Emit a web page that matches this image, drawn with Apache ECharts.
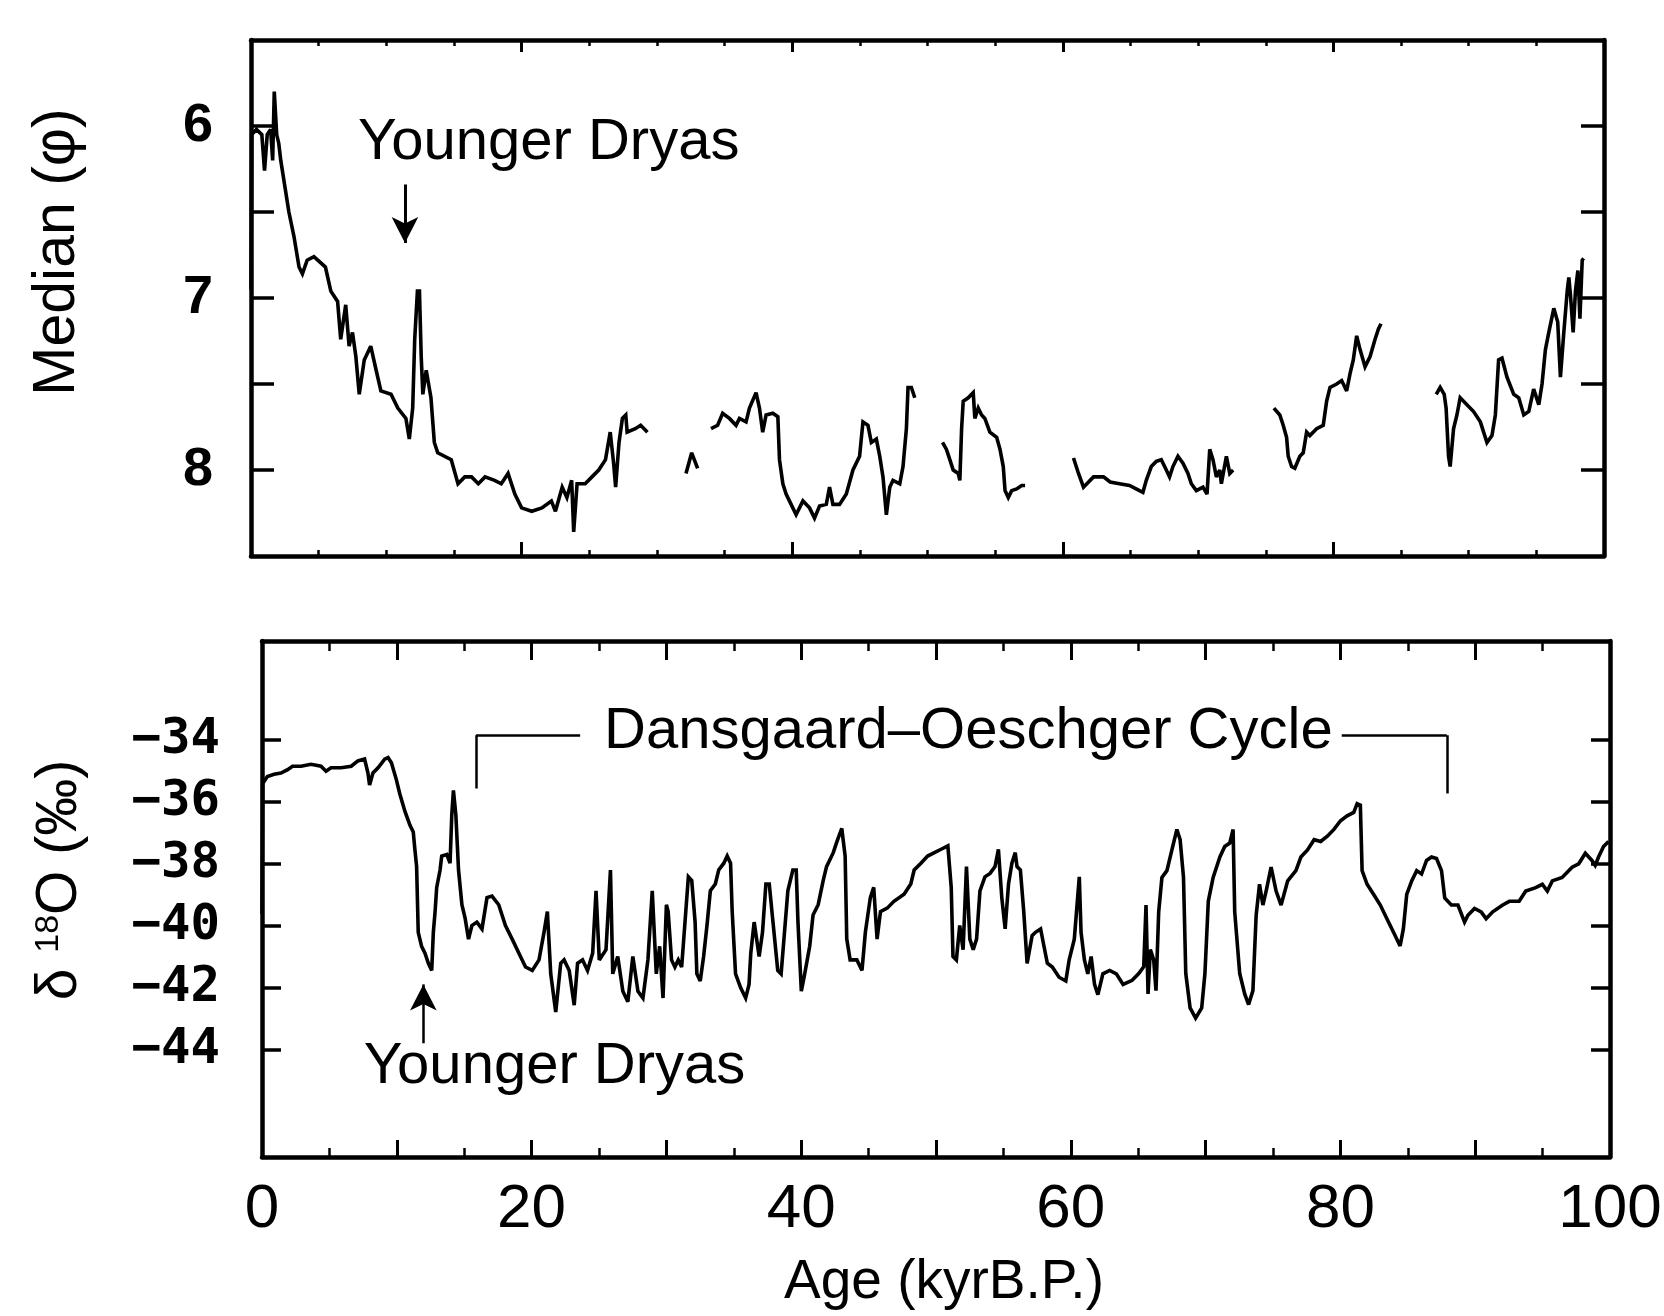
<!DOCTYPE html>
<html><head><meta charset="utf-8">
<script src="https://cdn.jsdelivr.net/npm/echarts@6/dist/echarts.min.js"></script>
<style>html,body{margin:0;padding:0;background:#fff}#chart{width:1664px;height:1316px}</style>
</head><body><div id="chart"></div>
<script>
// ---------- DATA (age in kyr B.P.) ----------
// Upper panel: Median grain size (phi), measured in separate core sections
const medianSeg1 = [[0.0,6.95],[0.05,6.05],[0.4,6.02],[0.8,6.05],[1.0,6.26],[1.2,6.05],[1.45,6.02],[1.6,6.2],[1.72,5.8],[1.9,6.05],[2.05,6.1],[2.2,6.2],[2.8,6.5],[3.17,6.64],[3.55,6.82],[3.8,6.86],[4.15,6.78],[4.65,6.76],[5.5,6.82],[5.9,6.96],[6.4,7.02],[6.63,7.24],[7.0,7.04],[7.25,7.28],[7.5,7.2],[7.75,7.34],[8.0,7.56],[8.37,7.36],[8.85,7.28],[9.25,7.42],[9.6,7.54],[10.35,7.56],[10.85,7.64],[11.45,7.7],[11.7,7.82],[11.95,7.64],[12.1,7.24],[12.3,6.96],[12.45,6.96],[12.58,7.34],[12.7,7.56],[12.95,7.42],[13.3,7.58],[13.55,7.84],[13.8,7.9],[14.8,7.94],[15.3,8.08],[15.8,8.04],[16.3,8.04],[16.8,8.08],[17.3,8.04],[18.0,8.06],[18.5,8.08],[19.0,8.02],[19.5,8.14],[20.0,8.22],[20.75,8.24],[21.5,8.22],[22.2,8.18],[22.5,8.24],[23.0,8.1],[23.35,8.16],[23.7,8.06],[23.85,8.36],[24.1,8.08],[24.7,8.08],[25.2,8.04],[25.7,8.0],[26.2,7.94],[26.55,7.78],[26.8,7.96],[26.95,8.1],[27.2,7.84],[27.45,7.7],[27.7,7.68],[27.8,7.78],[28.4,7.76],[28.8,7.74],[29.3,7.78]];
const medianSeg2 = [[32.15,8.02],[32.57,7.9],[33.01,7.99]];
const medianSeg3 = [[34.0,7.76],[34.49,7.74],[34.86,7.67],[35.36,7.7],[35.85,7.74],[36.1,7.7],[36.59,7.72],[36.84,7.64],[37.33,7.55],[37.58,7.64],[37.82,7.78],[38.07,7.68],[38.57,7.67],[38.94,7.69],[39.06,7.94],[39.31,8.08],[39.55,8.14],[39.92,8.2],[40.29,8.26],[40.79,8.18],[41.28,8.22],[41.65,8.28],[42.02,8.21],[42.52,8.2],[42.76,8.1],[43.01,8.2],[43.5,8.2],[44.0,8.14],[44.49,8.0],[44.98,7.92],[45.23,7.72],[45.6,7.74],[45.85,7.84],[46.22,7.82],[46.47,7.92],[46.71,8.04],[46.96,8.26],[47.21,8.1],[47.45,8.06],[47.95,8.08],[48.19,7.98],[48.44,7.76],[48.56,7.52],[48.81,7.52],[49.06,7.58]];
const medianSeg4 = [[51.11,7.84],[51.4,7.88],[51.65,7.94],[51.9,8.0],[52.27,8.02],[52.39,8.06],[52.52,7.76],[52.64,7.6],[53.01,7.58],[53.38,7.55],[53.5,7.7],[53.75,7.64],[54.0,7.68],[54.24,7.7],[54.61,7.78],[55.11,7.81],[55.36,7.88],[55.6,7.98],[55.73,8.12],[55.97,8.16],[56.22,8.12],[56.59,8.11],[56.96,8.09],[57.21,8.09]];
const medianSeg5 = [[60.79,7.93],[61.16,8.02],[61.53,8.1],[61.78,8.08],[62.27,8.04],[63.01,8.04],[63.5,8.07],[64.19,8.08],[64.93,8.09],[65.42,8.11],[65.92,8.13],[66.17,8.06],[66.54,7.98],[66.91,7.95],[67.28,7.94],[67.65,8.0],[67.89,8.04],[68.14,7.98],[68.51,7.92],[68.88,7.96],[69.25,8.02],[69.5,8.08],[69.87,8.12],[70.36,8.1],[70.66,8.14],[70.86,7.88],[71.1,7.94],[71.35,8.04],[71.6,8.0],[71.72,8.08],[72.09,7.92],[72.34,8.02],[72.59,8.0]];
const medianSeg6 = [[75.6,7.64],[76.04,7.68],[76.29,7.74],[76.54,7.81],[76.66,7.92],[76.91,7.98],[77.15,7.99],[77.52,7.92],[77.77,7.9],[78.02,7.78],[78.26,7.8],[78.76,7.76],[79.25,7.74],[79.5,7.6],[79.75,7.52],[80.24,7.5],[80.61,7.48],[80.98,7.54],[81.23,7.44],[81.47,7.36],[81.72,7.22],[81.97,7.3],[82.34,7.4],[82.71,7.34],[83.08,7.24],[83.33,7.18],[83.52,7.15]];
const medianSeg7 = [[87.6,7.56],[87.89,7.52],[88.19,7.56],[88.33,7.64],[88.51,7.92],[88.63,7.98],[88.88,7.76],[89.13,7.68],[89.37,7.58],[89.87,7.62],[90.36,7.66],[90.86,7.72],[91.35,7.84],[91.72,7.8],[91.97,7.68],[92.21,7.36],[92.46,7.35],[92.83,7.46],[93.33,7.56],[93.7,7.58],[94.07,7.68],[94.44,7.66],[94.8,7.53],[95.18,7.62],[95.42,7.5],[95.67,7.3],[95.92,7.2],[96.29,7.06],[96.58,7.14],[96.78,7.46],[97.03,7.2],[97.28,6.96],[97.4,6.88],[97.52,6.98],[97.72,7.2],[97.89,6.96],[98.07,6.84],[98.22,7.12],[98.39,6.78],[98.5,6.77]];

// Lower panel: delta 18O (permil), Greenland ice core
const d18oPartA = [[0,-39.6],[0.05,-35.4],[0.4,-35.17],[0.9,-35.1],[1.4,-35.06],[1.9,-34.95],[2.26,-34.84],[2.9,-34.84],[3.63,-34.78],[4.38,-34.84],[4.75,-35.0],[5.12,-34.89],[5.87,-34.89],[6.62,-34.84],[7.11,-34.67],[7.61,-34.61],[7.86,-35.06],[7.98,-35.45],[8.23,-35.06],[8.61,-34.89],[9.1,-34.61],[9.35,-34.56],[9.6,-34.73],[9.97,-35.28],[10.22,-35.73],[10.6,-36.29],[10.97,-36.74],[11.22,-36.96],[11.34,-37.52],[11.47,-38.08],[11.59,-40.2],[11.84,-40.65],[12.09,-40.87],[12.34,-41.2],[12.59,-41.43],[12.71,-40.2],[12.84,-39.53],[12.96,-38.75],[13.21,-38.19],[13.33,-37.74],[13.71,-37.69],[13.95,-37.97],[14.08,-36.4],[14.2,-35.62],[14.38,-36.4],[14.58,-38.19],[14.83,-39.31],[15.07,-39.75],[15.32,-40.42],[15.57,-39.98],[15.94,-39.87],[16.32,-40.09],[16.69,-39.08],[17.06,-39.03],[17.56,-39.31],[18.06,-39.98],[18.56,-40.42],[19.05,-40.87],[19.55,-41.32],[20.05,-41.43],[20.55,-41.09],[20.92,-40.2],[21.17,-39.53],[21.42,-41.54],[21.79,-42.77],[22.16,-41.2],[22.41,-41.09],[22.79,-41.43],[23.16,-42.55],[23.41,-41.2],[23.78,-41.09],[24.15,-41.43],[24.53,-40.87],[24.78,-38.86],[25.02,-41.09],[25.52,-40.76],[25.85,-38.19],[26.02,-41.54],[26.39,-40.98],[26.77,-42.1],[27.14,-42.44],[27.51,-40.98],[27.89,-42.1],[28.26,-42.32],[28.63,-41.09],[28.95,-38.86],[29.25,-41.54],[29.5,-40.65],[29.75,-42.32]];
const d18oPartB = [[30.0,-39.31],[30.13,-39.53],[30.38,-41.09],[30.63,-41.32],[30.88,-41.09],[31.13,-41.32],[31.38,-39.87],[31.63,-38.41],[31.88,-38.53],[32.13,-39.87],[32.26,-41.54],[32.51,-41.77],[32.76,-40.98],[33.01,-39.98],[33.26,-38.86],[33.63,-38.64],[33.88,-38.19],[34.26,-37.97],[34.51,-37.74],[34.76,-37.97],[34.88,-39.53],[35.13,-41.54],[35.51,-41.99],[35.88,-42.32],[36.13,-41.88],[36.26,-40.87],[36.51,-39.87],[36.88,-40.98],[37.13,-40.2],[37.38,-38.64],[37.63,-38.64],[37.88,-39.75],[38.26,-41.43],[38.51,-41.54],[38.76,-40.2],[39.01,-38.86],[39.38,-38.19],[39.63,-38.19],[39.76,-39.87],[40.01,-42.1],[40.26,-41.54],[40.63,-40.65],[40.88,-39.64],[41.26,-39.31],[41.63,-38.53],[41.88,-38.08],[42.38,-37.63],[42.63,-37.3],[43.01,-36.85],[43.26,-37.74],[43.38,-40.42],[43.63,-41.09],[44.13,-41.09],[44.51,-41.43],[44.76,-40.2],[45.13,-39.08],[45.38,-38.75],[45.63,-40.42],[45.88,-39.53],[46.38,-39.42],[46.88,-39.2],[47.63,-38.97],[48.13,-38.64],[48.38,-38.19],[48.88,-37.97],[49.38,-37.74],[49.88,-37.63],[50.38,-37.52],[50.88,-37.41],[51.13,-38.75],[51.26,-40.98],[51.51,-41.09],[51.76,-39.98],[52.01,-40.76],[52.26,-38.08],[52.51,-40.42],[52.76,-40.76],[53.01,-40.42],[53.26,-38.86],[53.63,-38.41],[54.01,-38.3],[54.38,-38.08],[54.63,-37.52],[54.88,-39.08],[55.13,-40.09],[55.38,-38.64],[55.63,-37.97],[55.88,-37.63],[56.01,-38.08],[56.26,-38.19],[56.51,-39.53],[56.76,-41.2],[57.13,-40.31],[57.38,-40.2],[57.76,-40.09],[58.01,-40.65],[58.26,-41.2],[58.63,-41.32],[59.13,-41.65],[59.63,-41.77],[59.88,-41.09],[60.26,-40.42],[60.63,-38.41],[60.76,-40.2],[61.01,-41.09],[61.26,-41.54],[61.51,-40.98],[61.76,-41.88],[62.01,-42.21],[62.38,-41.54],[62.88,-41.43],[63.38,-41.54],[63.88,-41.88]];
const d18oPartC = [[64.55,-41.75],[65.04,-41.53],[65.41,-41.31],[65.58,-39.32],[65.73,-42.19],[65.9,-40.76],[66.15,-41.09],[66.32,-42.08],[66.52,-39.54],[66.76,-38.43],[67.13,-38.21],[67.5,-37.54],[67.87,-36.88],[68.11,-37.21],[68.36,-38.43],[68.53,-41.53],[68.85,-42.64],[69.26,-42.97],[69.71,-42.64],[69.95,-41.53],[70.2,-39.2],[70.56,-38.43],[71.06,-37.77],[71.42,-37.43],[71.79,-37.32],[72.04,-36.88],[72.16,-39.54],[72.53,-41.53],[72.9,-42.19],[73.19,-42.53],[73.51,-42.08],[73.75,-39.65],[74.0,-38.65],[74.25,-39.32],[74.49,-38.87],[74.86,-38.1],[75.23,-38.87],[75.6,-39.32],[76.09,-38.54],[76.7,-38.21],[77.07,-37.77],[77.56,-37.54],[78.05,-37.21],[78.54,-37.27],[79.03,-37.1],[79.52,-36.88],[80.01,-36.6],[80.5,-36.44],[80.99,-36.33],[81.24,-36.05],[81.48,-36.1],[81.61,-38.21],[81.98,-38.65],[82.47,-38.98],[82.96,-39.32],[83.45,-39.76],[83.94,-40.2],[84.43,-40.64],[84.67,-40.09],[84.92,-38.98],[85.29,-38.54],[85.66,-38.21],[86.02,-38.32],[86.39,-37.88],[86.76,-37.77],[87.13,-37.82],[87.5,-38.21],[87.74,-39.09],[88.23,-39.32],[88.72,-39.32],[89.21,-39.87],[89.46,-39.65],[89.95,-39.43],[90.44,-39.54],[90.81,-39.76],[91.3,-39.54],[92.04,-39.32],[92.53,-39.2],[93.26,-39.2],[93.75,-38.87],[94.49,-38.76],[94.98,-38.65],[95.35,-38.87],[95.72,-38.54],[96.45,-38.43],[97.19,-38.1],[97.68,-37.99],[98.17,-37.65],[98.66,-37.88],[98.9,-38.04],[99.15,-37.77],[99.52,-37.43],[99.89,-37.27]];

// Tick values
const ageLabelTicks = [0, 20, 40, 60, 80, 100];
const medianLabelTicks = [6, 7, 8];
const medianTickMarks = [6, 6.5, 7, 7.5, 8];
const d18oTicks = [-44, -42, -40, -38, -36, -34];

// Annotations (text, anchor in data coords)
const ydTopText = {name: 'Younger Dryas', value: [22.0, 6.1]};
const ydTopArrow = [[11.38, 6.34], [11.38, 6.68]];
const ydBottomText = {name: 'Younger Dryas', value: [21.7, -44.54]};
const ydBottomArrow = [[11.97, -43.78], [11.97, -41.88]];
const doText = {name: 'Dansgaard\u2013Oeschger Cycle', value: [52.4, -33.74]};
const doBracket = [
  [[15.88, -35.56], [15.88, -33.84]],
  [[15.88, -33.84], [23.6, -33.84]],
  [[80.1, -33.84], [87.89, -33.84]],
  [[87.89, -33.84], [87.89, -35.72]]
];

// ---------- BUILD ----------
function joinSegments(segs) {
  const out = [];
  segs.forEach((s, i) => {
    if (i > 0) out.push([s[0][0] - 0.01, '-']);
    s.forEach(p => out.push(p));
  });
  return out;
}
const medianData = joinSegments([medianSeg1, medianSeg2, medianSeg3, medianSeg4, medianSeg5, medianSeg6, medianSeg7]);
const d18oData = d18oPartA.concat(d18oPartB, d18oPartC);

const FONT = "'Liberation Sans', Arial, sans-serif";
const BORDER = 4.5;
const LINE_W = 3.6;

function frameX(grid, pos, interval, major, minor, split, labels) {
  return {
    type: 'value', gridIndex: grid, position: pos, min: 0, max: 100, interval: interval,
    axisLine: {show: true, onZero: false, lineStyle: {color: '#000', width: BORDER}},
    axisTick: {show: true, inside: true, length: major, lineStyle: {color: '#000', width: 3}},
    minorTick: {show: true, splitNumber: split, length: minor, lineStyle: {color: '#000', width: 2.5}},
    splitLine: {show: false}, minorSplitLine: {show: false},
    axisLabel: labels ? {
      show: true, margin: 22, fontSize: 62, fontFamily: FONT, color: '#000',
      customValues: ageLabelTicks,
      formatter: v => String(v)
    } : {show: false}
  };
}
function frameY(grid, pos, opts) {
  return Object.assign({
    type: 'value', gridIndex: grid, position: pos,
    axisLine: {show: true, onZero: false, lineStyle: {color: '#000', width: BORDER}},
    splitLine: {show: false}
  }, opts);
}
const annotLabel = {show: true, position: 'inside', formatter: '{b}', fontSize: 58, fontFamily: FONT,
  color: '#000', opacity: 1, textBorderWidth: 0, textShadowBlur: 0};

const chart = echarts.init(document.getElementById('chart'), null, {renderer: 'canvas'});
const option = {
  animation: false,
  backgroundColor: '#fff',
  grid: [
    {left: 251, top: 40, width: 1353, height: 516, containLabel: false, outerBoundsMode: 'none'},
    {left: 262, top: 641, width: 1348, height: 516, containLabel: false, outerBoundsMode: 'none'}
  ],
  xAxis: [
    frameX(0, 'bottom', 20, 14, 6, 4, false),
    frameX(0, 'top', 20, 12, 6, 4, false),
    frameX(1, 'bottom', 10, 17, 9, 2, true),
    frameX(1, 'top', 10, 19, 10, 2, false)
  ],
  yAxis: [
    frameY(0, 'left', {min: 5.5, max: 8.5, inverse: true,
      axisTick: {show: true, inside: true, length: 23, customValues: medianTickMarks, lineStyle: {color: '#000', width: 3.5}},
      axisLabel: {show: true, margin: 38, fontSize: 54, fontWeight: 'bold', fontFamily: FONT, color: '#000',
        customValues: medianLabelTicks, formatter: v => String(v)}}),
    frameY(0, 'right', {min: 5.5, max: 8.5, inverse: true,
      axisTick: {show: true, inside: true, length: 23, customValues: medianTickMarks, lineStyle: {color: '#000', width: 3.5}},
      axisLabel: {show: false}}),
    frameY(1, 'left', {min: -47.45, max: -30.8,
      axisTick: {show: true, inside: true, length: 19, customValues: d18oTicks, lineStyle: {color: '#000', width: 3.5}},
      axisLabel: {show: true, margin: 42, fontSize: 49, fontWeight: 'bold', fontFamily: "'DejaVu Sans Mono', monospace", color: '#000',
        customValues: d18oTicks, formatter: v => '\u2212' + Math.abs(v)}}),
    frameY(1, 'right', {min: -47.45, max: -30.8,
      axisTick: {show: true, inside: true, length: 19, customValues: d18oTicks, lineStyle: {color: '#000', width: 3.5}},
      axisLabel: {show: false}})
  ],
  series: [
    {
      name: 'Median', type: 'line', xAxisIndex: 0, yAxisIndex: 0, data: medianData,
      showSymbol: false, symbol: 'none', connectNulls: false, clip: true,
      lineStyle: {color: '#000', width: LINE_W, join: 'miter', miterLimit: 3}, silent: true
    },
    {
      name: 'd18O', type: 'line', xAxisIndex: 2, yAxisIndex: 2, data: d18oData,
      showSymbol: false, symbol: 'none', clip: true,
      lineStyle: {color: '#000', width: LINE_W, join: 'miter', miterLimit: 3}, silent: true
    },
    {
      name: 'annotTop', type: 'scatter', xAxisIndex: 0, yAxisIndex: 0, silent: true,
      symbolSize: 1, itemStyle: {color: 'rgba(0,0,0,0)', opacity: 1},
      data: [ydTopText],
      label: annotLabel,
      markLine: {
        silent: true, animation: false, symbol: ['none', 'arrow'], symbolSize: [20, 26],
        lineStyle: {color: '#000', width: 3, type: 'solid', opacity: 1}, label: {show: false},
        data: [[{coord: ydTopArrow[0]}, {coord: ydTopArrow[1]}]]
      }
    },
    {
      name: 'annotBottom', type: 'scatter', xAxisIndex: 2, yAxisIndex: 2, silent: true,
      symbolSize: 1, itemStyle: {color: 'rgba(0,0,0,0)', opacity: 1},
      data: [ydBottomText, doText],
      label: annotLabel,
      markLine: {
        silent: true, animation: false, symbol: ['none', 'none'],
        lineStyle: {color: '#000', width: 2.5, type: 'solid', opacity: 1}, label: {show: false},
        data: [
          [{coord: ydBottomArrow[0], symbol: 'none'}, {coord: ydBottomArrow[1], symbol: 'arrow', symbolSize: [20, 26]}]
        ].concat(doBracket.map(seg => [{coord: seg[0]}, {coord: seg[1]}]))
      }
    }
  ],
  graphic: [
    {type: 'text', x: 58, y: 252, rotation: Math.PI / 2, silent: true,
      style: {text: 'Median (\u03c6)', fontSize: 59, fontFamily: FONT, fill: '#000',
        align: 'center', verticalAlign: 'middle', textAlign: 'center', textVerticalAlign: 'middle'}},
    {type: 'text', x: 60, y: 880, rotation: Math.PI / 2, silent: true,
      style: {text: '{a|\u03b4 }{b|18}{a|O (\u2030)}', fill: '#000',
        align: 'center', verticalAlign: 'middle', textAlign: 'center', textVerticalAlign: 'middle',
        rich: {a: {fontSize: 57, fontFamily: FONT, fill: '#000', color: '#000'},
               b: {fontSize: 34, fontFamily: FONT, fill: '#000', color: '#000', verticalAlign: 'top'}}}},
    {type: 'text', x: 944, y: 1283, silent: true,
      style: {text: 'Age (kyrB.P.)', fontSize: 55, fontFamily: FONT, fill: '#000',
        align: 'center', verticalAlign: 'middle', textAlign: 'center', textVerticalAlign: 'middle'}}
  ]
};
chart.setOption(option);
</script></body></html>
